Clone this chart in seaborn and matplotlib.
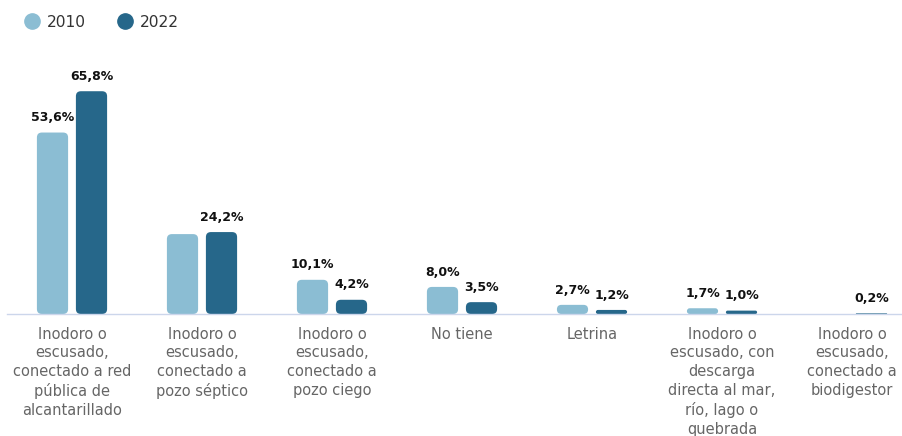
import numpy as np
import pandas as pd
import seaborn as sns
import matplotlib.pyplot as plt
from matplotlib.patches import FancyBboxPatch
from matplotlib.lines import Line2D

categories = [
    "Inodoro o\nescusado,\nconectado a red\npública de\nalcantarillado",
    "Inodoro o\nescusado,\nconectado a\npozo séptico",
    "Inodoro o\nescusado,\nconectado a\npozo ciego",
    "No tiene",
    "Letrina",
    "Inodoro o\nescusado, con\ndescarga\ndirecta al mar,\nrío, lago o\nquebrada",
    "Inodoro o\nescusado,\nconectado a\nbiodigestor",
]
values_2010 = [53.6, 23.6, 10.1, 8.0, 2.7, 1.7, np.nan]
values_2022 = [65.8, 24.2, 4.2, 3.5, 1.2, 1.0, 0.2]
labels_2010 = ["53,6%", "", "10,1%", "8,0%", "2,7%", "1,7%", ""]
labels_2022 = ["65,8%", "24,2%", "4,2%", "3,5%", "1,2%", "1,0%", "0,2%"]
years = ["2010", "2022"]
colors = ["#8bbdd3", "#26678a"]

df = pd.DataFrame({
    "categoria": categories * 2,
    "valor": values_2010 + values_2022,
    "anio": [years[0]] * len(categories) + [years[1]] * len(categories),
})

sns.set_style("white")
plt.rcParams["font.family"] = ["DejaVu Sans"]

fig = plt.figure(figsize=(9.02, 4.36), dpi=100)
ax = fig.add_axes([7 / 902, 122 / 436, 910 / 902, 237 / 436])

sns.barplot(data=df, x="categoria", y="valor", hue="anio", palette=colors,
            width=0.6, gap=0.2, order=categories, hue_order=years,
            legend=False, ax=ax, saturation=1)
ax.set_ylim(0, 70)
ax.set_xlim(-0.5, 6.5)

# rounded corners
fig.canvas.draw()
bbox = ax.get_window_extent()
xpp = 7 / bbox.width
ypp = 70 / bbox.height
aspect = ypp / xpp
for p in list(ax.patches):
    h = p.get_height()
    if not np.isfinite(h) or h <= 0:
        p.remove()
        continue
    x, w = p.get_x(), p.get_width()
    r = min(5 * xpp, w / 2, h / aspect / 2)
    fb = FancyBboxPatch((x, 0), w, h, boxstyle=f"round,pad=0,rounding_size={r}",
                        mutation_aspect=aspect, facecolor=p.get_facecolor(),
                        edgecolor="none")
    p.remove()
    ax.add_patch(fb)

for i, cat in enumerate(categories):
    for j, (vals, labs) in enumerate([(values_2010, labels_2010), (values_2022, labels_2022)]):
        if labs[i]:
            xpos = i + (-0.15 if j == 0 else 0.15)
            ax.annotate(labs[i], (xpos, vals[i]), xytext=(0, 6), textcoords="offset points",
                        ha="center", va="bottom", fontsize=9, fontweight="bold", color="#111111")

ax.set_xlabel("")
ax.set_ylabel("")
ax.set_yticks([])
ax.tick_params(axis="x", length=0, pad=9, labelsize=10.5, labelcolor="#666666")
for s in ["top", "right", "left"]:
    ax.spines[s].set_visible(False)
ax.spines["bottom"].set_color("#ccd6eb")
ax.spines["bottom"].set_linewidth(1)
for t in ax.get_xticklabels():
    t.set_linespacing(1.32)
    t.set_ha("center")

handles = [Line2D([], [], marker="o", linestyle="", markersize=11, color=c) for c in colors]
fig.legend(handles, years, loc="upper left", bbox_to_anchor=(0.01, 0.998), ncol=2,
           frameon=False, fontsize=11.2, labelcolor="#333333", handletextpad=0.35,
           columnspacing=1.9, handlelength=1.2)

fig.savefig("out.png", dpi=100)
